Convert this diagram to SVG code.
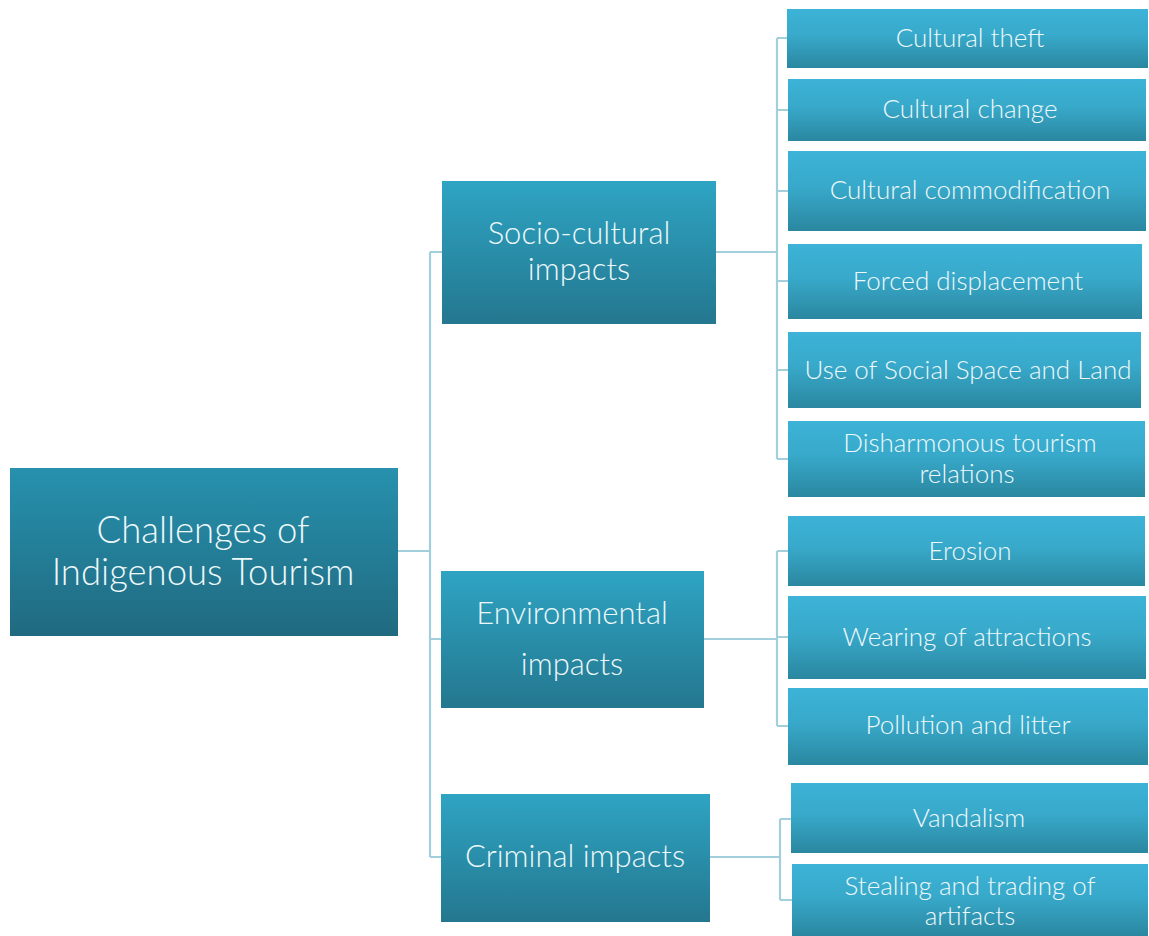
<svg xmlns="http://www.w3.org/2000/svg" width="1149" height="936" viewBox="0 0 1149 936">
  <defs>
    <linearGradient id="gRoot" x1="0" y1="0" x2="0" y2="1">
      <stop offset="0" stop-color="#2791ae"/>
      <stop offset="1" stop-color="#206a80"/>
    </linearGradient>
    <linearGradient id="gMid" x1="0" y1="0" x2="0" y2="1">
      <stop offset="0" stop-color="#2ea4c3"/>
      <stop offset="1" stop-color="#24778f"/>
    </linearGradient>
    <linearGradient id="gLeaf" x1="0" y1="0" x2="0" y2="1">
      <stop offset="0" stop-color="#3cb3d7"/>
      <stop offset="0.45" stop-color="#38a9ca"/>
      <stop offset="1" stop-color="#2a87a0"/>
    </linearGradient>
    <style>
      .root { fill: url(#gRoot); }
      .mid { fill: url(#gMid); }
      .leaf { fill: url(#gLeaf); }
      text { font-family: Lato, "Open Sans", "Liberation Sans", sans-serif; font-weight: 300; fill: #eef8fb; text-anchor: middle; }
      .t0 { font-size: 36.5px; }
      .t1 { font-size: 31px; }
      .t2 { font-size: 26px; }
      .conn path { fill: none; stroke: #a3cfdd; stroke-width: 2.2; }
    </style>
  </defs>

  <!-- connectors -->
  <g class="conn">
    <path d="M398 551 H430 M430 252 V857 M430 252 H442 M430 639 H441 M430 857 H441"/>
    <path d="M716 252 H777 M777 38 V459 M777 38 H787 M777 110 H788 M777 191 H788 M777 281 H788 M777 370 H788 M777 459 H788"/>
    <path d="M704 639 H777 M777 551 V726 M777 551 H788 M777 637 H788 M777 726 H788"/>
    <path d="M710 857 H780 M780 819 V900 M780 819 H791 M780 900 H792"/>
  </g>

  <g id="root">
    <rect class="root" x="10" y="468" width="388" height="168"/>
    <text class="t0" x="203" y="543">Challenges of</text>
    <text class="t0" x="203" y="585">Indigenous Tourism</text>
  </g>

  <g id="socio">
    <rect class="mid" x="442" y="181" width="274" height="143"/>
    <text class="t1" x="579" y="244">Socio-cultural</text>
    <text class="t1" x="579" y="280">impacts</text>
  </g>
  <g id="environmental">
    <rect class="mid" x="441" y="571" width="263" height="137"/>
    <text class="t1" x="572" y="624">Environmental</text>
    <text class="t1" x="572" y="675">impacts</text>
  </g>
  <g id="criminal">
    <rect class="mid" x="441" y="794" width="269" height="128"/>
    <text class="t1" x="575" y="867">Criminal impacts</text>
  </g>

  <g id="cultural-theft">
    <rect class="leaf" x="787" y="9" width="361" height="59"/>
    <text class="t2" x="970" y="47">Cultural theft</text>
  </g>
  <g id="cultural-change">
    <rect class="leaf" x="788" y="79" width="358" height="62"/>
    <text class="t2" x="970" y="118">Cultural change</text>
  </g>
  <g id="cultural-commodification">
    <rect class="leaf" x="788" y="151" width="358" height="80"/>
    <text class="t2" x="970" y="199">Cultural commodification</text>
  </g>
  <g id="forced-displacement">
    <rect class="leaf" x="788" y="244" width="354" height="75"/>
    <text class="t2" x="968" y="290">Forced displacement</text>
  </g>
  <g id="social-space">
    <rect class="leaf" x="788" y="332" width="353" height="76"/>
    <text class="t2" x="968" y="379">Use of Social Space and Land</text>
  </g>
  <g id="disharmonous">
    <rect class="leaf" x="788" y="421" width="357" height="76"/>
    <text class="t2" x="970" y="452">Disharmonous tourism</text>
    <text class="t2" x="967" y="483">relations</text>
  </g>

  <g id="erosion">
    <rect class="leaf" x="788" y="516" width="357" height="70"/>
    <text class="t2" x="970" y="560">Erosion</text>
  </g>
  <g id="wearing">
    <rect class="leaf" x="788" y="596" width="358" height="83"/>
    <text class="t2" x="967" y="646">Wearing of attractions</text>
  </g>
  <g id="pollution">
    <rect class="leaf" x="788" y="688" width="360" height="77"/>
    <text class="t2" x="968" y="734">Pollution and litter</text>
  </g>

  <g id="vandalism">
    <rect class="leaf" x="791" y="783" width="357" height="70"/>
    <text class="t2" x="969" y="827">Vandalism</text>
  </g>
  <g id="stealing">
    <rect class="leaf" x="792" y="864" width="356" height="72"/>
    <text class="t2" x="970" y="895">Stealing and trading of</text>
    <text class="t2" x="970" y="925">artifacts</text>
  </g>
</svg>
